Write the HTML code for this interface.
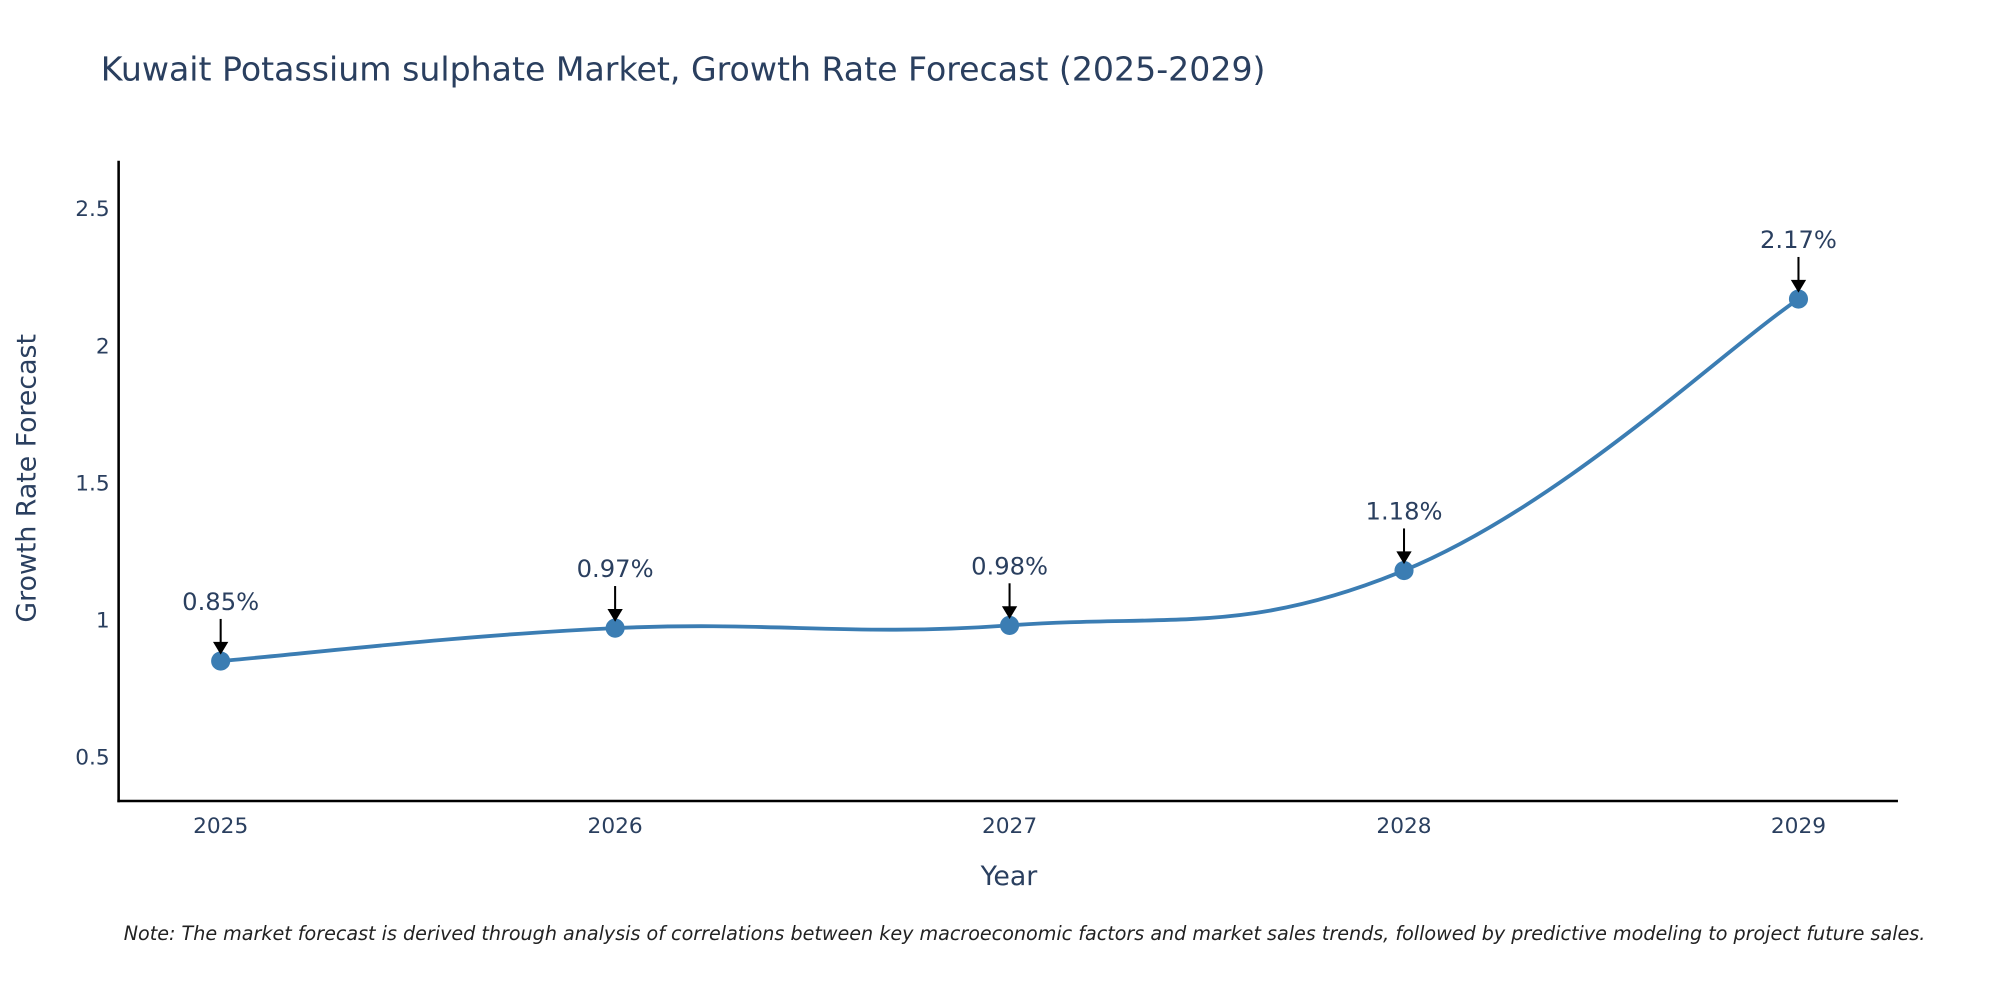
<!DOCTYPE html>
<html><head><meta charset="utf-8"><style>
html,body{margin:0;padding:0;background:#fff;}
svg{display:block;font-family:"DejaVu Sans","Liberation Sans",sans-serif;}
</style></head><body>
<svg id="chart" width="2000" height="1000" viewBox="0 0 1568 784" xmlns="http://www.w3.org/2000/svg">
<rect width="1568" height="784" fill="#fff"/>
<text x="79" y="63" font-size="26" fill="#2a3f5f">Kuwait Potassium sulphate Market, Growth Rate Forecast (2025-2029)</text>
<g id="yticks"></g>
<g id="xticks"></g>
<line x1="93" y1="126" x2="93" y2="629" stroke="#000" stroke-width="2"/>
<line x1="92" y1="628" x2="1488" y2="628" stroke="#000" stroke-width="2"/>
<text transform="translate(28,375) rotate(-90)" text-anchor="middle" font-size="21" fill="#2a3f5f">Growth Rate Forecast</text>
<text x="791" y="694" text-anchor="middle" font-size="21" fill="#2a3f5f">Year</text>
<g id="series"></g>
<g id="annots"></g>
<text x="97" y="737" font-size="15" font-style="italic" fill="#222">Note: The market forecast is derived through analysis of correlations between key macroeconomic factors and market sales trends, followed by predictive modeling to project future sales.</text>
</svg>
<script>
const years = [2025, 2026, 2027, 2028, 2029];
const values = [0.85, 0.97, 0.98, 1.18, 2.17];
const valueLabels = ["0.85%", "0.97%", "0.98%", "1.18%", "2.17%"];
const yTicks = [0.5, 1, 1.5, 2, 2.5];
const yTickLabels = ["0.5", "1", "1.5", "2", "2.5"];

const NS = "http://www.w3.org/2000/svg";
function xScale(v){ return 173 + (v - 2025) * (1410 - 173) / 4; }
function yScale(v){ return 486 - (v - 1) * 215; }
function mk(tag, attrs, parent, txt){
  const e = document.createElementNS(NS, tag);
  for (const k in attrs) e.setAttribute(k, attrs[k]);
  if (txt !== undefined) e.textContent = txt;
  parent.appendChild(e);
  return e;
}
const yt = document.getElementById('yticks');
yTicks.forEach((t, i) => {
  const e = mk('text', {x: 86, y: yScale(t) + 6, 'text-anchor': 'end', 'font-size': 17, fill: '#2a3f5f'}, yt, yTickLabels[i]);
  
  
});
const xt = document.getElementById('xticks');
years.forEach(y => {
  const e = mk('text', {x: xScale(y), y: 653, 'text-anchor': 'middle', 'font-size': 17, fill: '#2a3f5f'}, xt, String(y));
  
  
});
const pts = years.map((y, i) => [xScale(y), yScale(values[i])]);
let d = `M${pts[0][0]},${pts[0][1]}`;
const s = 0.2;
for (let i = 0; i < pts.length - 1; i++) {
  const p0 = pts[Math.max(0, i - 1)], p1 = pts[i], p2 = pts[i + 1], p3 = pts[Math.min(pts.length - 1, i + 2)];
  const c1 = [p1[0] + (p2[0] - p0[0]) * s, p1[1] + (p2[1] - p0[1]) * s];
  const c2 = [p2[0] - (p3[0] - p1[0]) * s, p2[1] - (p3[1] - p1[1]) * s];
  d += ` C${c1[0]},${c1[1]} ${c2[0]},${c2[1]} ${p2[0]},${p2[1]}`;
}
const ser = document.getElementById('series');
const line = mk('path', {d: d, fill: 'none', stroke: '#3b7db3', 'stroke-width': 3}, ser);


pts.forEach(p => {
  const c = mk('circle', {cx: p[0], cy: p[1], r: 7.5, fill: '#3b7db3'}, ser);
  
  
});
const an = document.getElementById('annots');
pts.forEach((p, i) => {
  const l = mk('line', {x1: p[0], y1: p[1] - 33, x2: p[0], y2: p[1] - 14, stroke: '#000', 'stroke-width': 1.6}, an);
  
  
  const h = mk('path', {d: `M${p[0]-6},${p[1]-15} L${p[0]+6},${p[1]-15} L${p[0]},${p[1]-5} Z`, fill: '#000'}, an);
  
  
  const t = mk('text', {x: p[0], y: p[1] - 40, 'text-anchor': 'middle', 'font-size': 19, fill: '#2a3f5f'}, an, valueLabels[i]);
  
  
});
</script>
</body></html>
